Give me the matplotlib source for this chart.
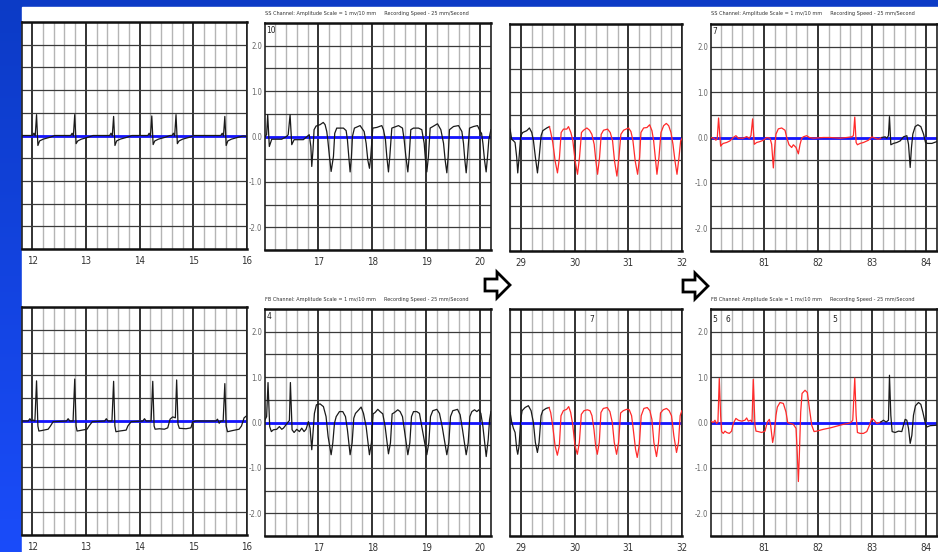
import numpy as np
import matplotlib.pyplot as plt
from matplotlib.ticker import MultipleLocator, FixedLocator
from matplotlib.patches import Polygon, Rectangle
from matplotlib.colors import LinearSegmentedColormap

W, H = 938, 552
NARROW = ['Liberation Sans Narrow', 'DejaVu Sans']

# ---- traces (time in s, amplitude in mV) ----
# top row: SS channel
ss_a_t = [11.81, 12.007, 12.032, 12.056, 12.081, 12.106, 12.137, 12.205, 12.328, 12.421,
          12.718, 12.743, 12.767, 12.792, 12.817, 12.848, 12.916, 13.039, 13.132,
          13.442, 13.467, 13.491, 13.516, 13.541, 13.572, 13.64, 13.763, 13.856,
          14.153, 14.178, 14.202, 14.227, 14.252, 14.283, 14.351, 14.474, 14.567,
          14.604, 14.629, 14.653, 14.678, 14.703, 14.734, 14.802, 14.925, 15.018,
          15.513, 15.538, 15.562, 15.587, 15.612, 15.643, 15.711, 15.834, 15.927, 16.0]
ss_a_v = [0.0, 0.0, 0.05, -0.01, 0.46, -0.22, -0.12, -0.08, -0.04, 0.0,
          0.0, 0.05, -0.01, 0.46, -0.18, -0.12, -0.08, -0.04, 0.0,
          0.0, 0.05, -0.01, 0.42, -0.22, -0.12, -0.08, -0.04, 0.0,
          0.0, 0.05, -0.01, 0.43, -0.20, -0.12, -0.08, -0.04, 0.0,
          0.0, 0.05, -0.01, 0.46, -0.18, -0.12, -0.08, -0.04, 0.0,
          0.0, 0.05, -0.01, 0.42, -0.22, -0.12, -0.08, -0.04, -0.01, -0.02]

ss_b_t = [16.011, 16.04, 16.06, 16.09, 16.135, 16.32, 16.41, 16.44, 16.475, 16.506, 16.55,
          16.72, 16.78, 16.83, 16.86, 16.877, 16.90, 16.92, 16.957, 17.03, 17.09, 17.124,
          17.155, 17.174, 17.205, 17.236, 17.279, 17.303, 17.34, 17.464, 17.514, 17.538,
          17.563, 17.588, 17.613, 17.631, 17.668, 17.773, 17.848, 17.885, 17.916, 17.947,
          17.971, 18.008, 18.083, 18.175, 18.206, 18.243, 18.268, 18.299, 18.324, 18.361,
          18.485, 18.559, 18.59, 18.621, 18.658, 18.683, 18.713, 18.763, 18.856, 18.917,
          18.961, 18.985, 19.01, 19.04, 19.072, 19.208, 19.27, 19.32, 19.35, 19.381,
          19.406, 19.43, 19.505, 19.598, 19.66, 19.69, 19.715, 19.74, 19.765, 19.802,
          19.876, 19.95, 20.0, 20.025, 20.05, 20.08, 20.11, 20.136, 20.16, 20.198]
ss_b_v = [0.0, 0.04, 0.48, -0.22, -0.06, -0.06, 0.0, 0.04, 0.48, -0.18, -0.07,
          -0.07, -0.01, 0.04, -0.22, -0.66, -0.29, 0.15, 0.23, 0.26, 0.31, 0.26,
          0.11, -0.07, -0.44, -0.77, -0.44, 0.07, 0.185, 0.185, 0.13, -0.07,
          -0.44, -0.78, -0.44, 0.0, 0.185, 0.24, 0.11, -0.15, -0.52, -0.70,
          -0.44, 0.185, 0.20, 0.24, 0.15, -0.07, -0.44, -0.78, -0.44, 0.185,
          0.24, 0.185, -0.07, -0.44, -0.78, -0.44, 0.15, 0.185, 0.185, 0.15,
          -0.15, -0.52, -0.78, -0.44, 0.185, 0.28, 0.15, -0.15, -0.52, -0.80,
          -0.44, 0.15, 0.22, 0.24, 0.11, -0.15, -0.52, -0.80, -0.44, 0.185,
          0.22, 0.24, 0.11, 0.07, -0.15, -0.52, -0.78, -0.44, -0.07, 0.15]

ss_c_black_t = [28.801, 28.832, 28.863, 28.894, 28.925, 28.944, 28.969, 29.0, 29.037, 29.112,
                29.161, 29.205, 29.236, 29.273, 29.311, 29.342, 29.379, 29.41, 29.484, 29.534]
ss_c_black_v = [0.185, -0.04, -0.07, -0.11, -0.44, -0.78, -0.44, 0.04, 0.11, 0.15,
                0.21, 0.11, -0.07, -0.44, -0.78, -0.44, 0.04, 0.15, 0.21, 0.24]
ss_c_red_t = [29.534, 29.559, 29.596, 29.64, 29.683, 29.72, 29.752, 29.795, 29.857, 29.888,
              29.932, 29.969, 30.012, 30.056, 30.093, 30.13, 30.168, 30.23, 30.28, 30.323,
              30.366, 30.398, 30.429, 30.466, 30.497, 30.54, 30.615, 30.665, 30.708, 30.745,
              30.789, 30.826, 30.863, 30.913, 31.006, 31.05, 31.087, 31.13, 31.174, 31.211,
              31.236, 31.286, 31.348, 31.398, 31.441, 31.472, 31.51, 31.534, 31.571, 31.609,
              31.658, 31.708, 31.752, 31.795, 31.832, 31.87, 31.907, 31.944, 31.975, 32.0]
ss_c_red_v = [0.24, 0.11, -0.11, -0.52, -0.78, -0.44, 0.11, 0.185, 0.185, 0.24,
              0.11, -0.07, -0.52, -0.81, -0.44, 0.11, 0.16, 0.21, 0.16, 0.07,
              -0.15, -0.52, -0.81, -0.44, 0.07, 0.16, 0.185, 0.11, -0.07, -0.52,
              -0.85, -0.44, 0.07, 0.16, 0.21, 0.13, -0.07, -0.52, -0.81, -0.44,
              0.11, 0.21, 0.22, 0.28, 0.15, -0.07, -0.52, -0.81, -0.44, 0.11,
              0.26, 0.31, 0.26, 0.11, -0.15, -0.52, -0.81, -0.44, -0.07, -0.02]

ss_d_red_t = [80.019, 80.074, 80.111, 80.136, 80.16, 80.198, 80.216, 80.247, 80.309, 80.37,
              80.432, 80.481, 80.525, 80.617, 80.679, 80.728, 80.759, 80.79, 80.821, 80.864,
              80.926, 80.988, 81.049, 81.111, 81.142, 81.173, 81.198, 81.222, 81.265, 81.327,
              81.389, 81.42, 81.463, 81.512, 81.543, 81.593, 81.636, 81.667, 81.698, 81.728,
              81.79, 81.84, 81.914, 82.099, 82.222, 82.407, 82.531, 82.623, 82.654, 82.679,
              82.704, 82.728, 82.778, 82.84, 82.932, 82.994, 83.056, 83.117, 83.179]
ss_d_red_v = [0.0, -0.015, -0.06, -0.015, 0.43, -0.19, -0.16, -0.13, -0.11, -0.075,
              0.0, 0.04, -0.015, -0.015, 0.02, -0.015, 0.04, 0.41, -0.15, -0.11,
              -0.09, -0.06, 0.0, -0.015, -0.15, -0.67, -0.22, 0.075, 0.19, 0.21,
              0.16, 0.0, -0.16, -0.22, -0.16, -0.22, -0.36, -0.15, -0.015, 0.015,
              0.04, 0.0, -0.015, 0.0, 0.0, -0.015, 0.0, 0.015, 0.04, 0.45,
              -0.11, -0.16, -0.13, -0.11, -0.06, 0.015, -0.015, -0.04, 0.0]
ss_d_black_t = [83.179, 83.241, 83.272, 83.302, 83.321, 83.346, 83.395, 83.457, 83.519, 83.58,
                83.642, 83.673, 83.704, 83.728, 83.753, 83.796, 83.846, 83.901, 83.951, 83.988,
                84.025, 84.105, 84.198]
ss_d_black_v = [0.0, 0.015, -0.015, 0.04, 0.46, -0.16, -0.13, -0.11, -0.075, 0.015,
                0.04, -0.15, -0.66, -0.22, 0.075, 0.24, 0.28, 0.24, 0.075, -0.11,
                -0.13, -0.13, -0.09]

# bottom row: FB channel
fb_e_t = [11.809, 11.926, 11.957, 11.988, 12.019, 12.05, 12.081, 12.106, 12.124, 12.174,
          12.297, 12.34, 12.39, 12.638, 12.669, 12.7, 12.761, 12.792, 12.817, 12.835,
          12.885, 13.021, 13.058, 13.12, 13.349, 13.38, 13.41, 13.485, 13.516, 13.54,
          13.559, 13.627, 13.75, 13.781, 13.843, 14.06, 14.091, 14.122, 14.214, 14.245,
          14.27, 14.289, 14.369, 14.462, 14.524, 14.567, 14.616, 14.666, 14.69, 14.715,
          14.74, 14.864, 14.956, 14.987, 15.049, 15.42, 15.451, 15.482, 15.513, 15.556,
          15.587, 15.612, 15.637, 15.73, 15.853, 15.897, 15.946, 15.989]
fb_e_v = [0.0, 0.0, 0.05, 0.0, 0.02, 0.0, 0.88, -0.11, -0.22, -0.21,
          -0.18, -0.11, -0.015, 0.0, 0.05, 0.0, 0.0, 0.92, -0.11, -0.22,
          -0.21, -0.18, -0.11, -0.015, 0.0, 0.05, 0.0, 0.0, 0.87, -0.11,
          -0.235, -0.22, -0.20, -0.11, -0.015, 0.0, 0.05, 0.0, 0.0, 0.87,
          -0.11, -0.18, -0.17, -0.18, -0.15, 0.04, 0.09, 0.07, 0.90, -0.07,
          -0.16, -0.17, -0.15, -0.02, 0.0, 0.0, 0.04, -0.05, 0.0, 0.0,
          0.82, -0.11, -0.235, -0.21, -0.18, -0.11, 0.07, 0.11]

fb_f_t = [16.011, 16.04, 16.066, 16.097, 16.128, 16.166, 16.227, 16.277, 16.32, 16.351,
          16.4, 16.444, 16.462, 16.481, 16.512, 16.549, 16.599, 16.648, 16.691, 16.734,
          16.771, 16.815, 16.846, 16.877, 16.90, 16.926, 16.963, 17.031, 17.093, 17.142,
          17.18, 17.236, 17.267, 17.298, 17.33, 17.39, 17.452, 17.502, 17.538, 17.588,
          17.625, 17.656, 17.687, 17.749, 17.792, 17.836, 17.885, 17.946, 17.983, 18.014,
          18.051, 18.101, 18.144, 18.194, 18.237, 18.299, 18.336, 18.367, 18.41, 18.472,
          18.515, 18.559, 18.602, 18.658, 18.695, 18.726, 18.763, 18.825, 18.874, 18.917,
          19.01, 19.047, 19.078, 19.121, 19.196, 19.245, 19.295, 19.381, 19.418, 19.449,
          19.492, 19.579, 19.628, 19.672, 19.74, 19.777, 19.808, 19.845, 19.895, 19.938,
          19.975, 20.012, 20.05, 20.111, 20.148, 20.173, 20.198]
fb_f_v = [0.06, 0.13, 0.88, -0.09, -0.20, -0.16, -0.15, -0.09, -0.15, -0.125,
          -0.05, 0.02, 0.04, 0.88, -0.16, -0.22, -0.15, -0.20, -0.125, -0.20,
          -0.15, 0.02, -0.125, -0.60, -0.23, 0.20, 0.39, 0.41, 0.35, 0.13,
          -0.31, -0.71, -0.45, -0.015, 0.13, 0.24, 0.24, 0.13, -0.16, -0.71,
          -0.45, 0.095, 0.20, 0.28, 0.34, 0.20, -0.09, -0.71, -0.45, 0.19,
          0.22, 0.29, 0.24, 0.19, -0.09, -0.69, -0.45, 0.19, 0.22, 0.28,
          0.24, 0.13, -0.23, -0.71, -0.45, 0.13, 0.24, 0.24, 0.20, -0.09,
          -0.71, -0.45, 0.13, 0.26, 0.29, 0.20, -0.09, -0.71, -0.45, 0.13,
          0.26, 0.29, 0.17, -0.16, -0.71, -0.45, 0.13, 0.24, 0.28, 0.24,
          0.28, 0.20, -0.09, -0.75, -0.38, 0.06, 0.24]

fb_g_black_t = [28.802, 28.833, 28.864, 28.895, 28.926, 28.944, 28.969, 29.0, 29.025, 29.08,
                29.142, 29.192, 29.235, 29.272, 29.31, 29.341, 29.378, 29.409, 29.471, 29.526]
fb_g_black_v = [0.22, 0.0, -0.13, -0.22, -0.59, -0.70, -0.51, 0.07, 0.26, 0.33,
                0.37, 0.26, 0.0, -0.44, -0.66, -0.44, 0.15, 0.26, 0.31, 0.33]
fb_g_red_t = [29.526, 29.557, 29.594, 29.638, 29.681, 29.718, 29.749, 29.793, 29.854, 29.892,
              29.929, 29.966, 30.009, 30.053, 30.09, 30.127, 30.176, 30.238, 30.288, 30.325,
              30.362, 30.393, 30.424, 30.461, 30.492, 30.536, 30.61, 30.659, 30.703, 30.74,
              30.783, 30.82, 30.858, 30.907, 30.969, 31.019, 31.062, 31.093, 31.136, 31.167,
              31.204, 31.241, 31.291, 31.353, 31.402, 31.44, 31.477, 31.526, 31.563, 31.6,
              31.65, 31.712, 31.761, 31.805, 31.848, 31.898, 31.935, 31.966, 31.997]
fb_g_red_v = [0.33, 0.22, -0.07, -0.51, -0.72, -0.51, 0.15, 0.26, 0.29, 0.35,
              0.22, -0.04, -0.51, -0.70, -0.44, 0.18, 0.26, 0.28, 0.26, 0.15,
              -0.15, -0.51, -0.70, -0.44, 0.22, 0.31, 0.33, 0.24, 0.0, -0.44,
              -0.70, -0.44, 0.21, 0.26, 0.29, 0.28, 0.15, -0.15, -0.59, -0.77,
              -0.51, 0.15, 0.31, 0.33, 0.26, 0.07, -0.44, -0.75, -0.44, 0.21,
              0.28, 0.31, 0.26, 0.15, -0.29, -0.66, -0.44, 0.15, 0.26]

fb_h_red_t = [80.019, 80.062, 80.093, 80.123, 80.148, 80.173, 80.198, 80.216, 80.247, 80.278,
              80.309, 80.358, 80.401, 80.432, 80.481, 80.525, 80.586, 80.648, 80.679, 80.71,
              80.753, 80.778, 80.802, 80.833, 80.852, 80.895, 80.957, 81.019, 81.062, 81.099,
              81.123, 81.16, 81.185, 81.222, 81.247, 81.296, 81.358, 81.407, 81.438, 81.481,
              81.543, 81.593, 81.617, 81.636, 81.654, 81.679, 81.704, 81.759, 81.802, 81.84,
              81.883, 81.926, 81.975, 82.099, 82.222, 82.346, 82.469, 82.562, 82.605, 82.642,
              82.679, 82.704, 82.728, 82.778, 82.84, 82.901, 82.951, 82.994, 83.037, 83.086,
              83.16]
fb_h_red_v = [0.03, 0.0, 0.05, -0.02, 0.01, 0.97, 0.16, -0.20, -0.24, -0.19,
              -0.22, -0.24, -0.19, -0.02, 0.09, 0.05, 0.03, 0.05, 0.10, 0.03,
              0.05, 0.01, 0.95, -0.06, -0.19, -0.20, -0.22, -0.19, 0.01, 0.07,
              -0.06, -0.44, -0.28, 0.16, 0.34, 0.44, 0.42, 0.23, 0.0, -0.02,
              -0.04, -0.13, -0.72, -1.30, -0.72, 0.23, 0.64, 0.71, 0.66, 0.31,
              -0.06, -0.20, -0.19, -0.15, -0.12, -0.08, -0.04, -0.02, 0.0, 0.05,
              0.98, 0.16, -0.22, -0.24, -0.24, -0.20, -0.06, 0.09, 0.05, -0.02,
              0.01]
fb_h_black_t = [83.16, 83.21, 83.259, 83.302, 83.321, 83.346, 83.37, 83.426, 83.488, 83.549,
                83.58, 83.611, 83.642, 83.673, 83.704, 83.735, 83.765, 83.802, 83.858, 83.901,
                83.938, 83.981, 84.012, 84.074, 84.198]
fb_h_black_v = [0.01, 0.05, 0.01, 0.05, 1.04, 0.16, -0.20, -0.22, -0.19, -0.20,
                -0.06, 0.07, 0.05, -0.13, -0.46, -0.28, 0.16, 0.37, 0.44, 0.40,
                0.23, 0.0, -0.10, -0.07, -0.06]

y_ticks = [-2, -1, 0, 1, 2]
y_tick_labels = ['-2.0', '-1.0', '0.0', '1.0', '2.0']
ss_title = 'SS Channel: Amplitude Scale = 1 mv/10 mm     Recording Speed - 25 mm/Second'
fb_title = 'FB Channel: Amplitude Scale = 1 mv/10 mm     Recording Speed - 25 mm/Second'

BLACK = '#1a1a1a'
RED = '#ff2a2a'


def box(l, t, r, b):
    return [l / W, 1 - b / H, (r - l) / W, (b - t) / H]


fig = plt.figure(figsize=(W / 100, H / 100), dpi=100)

# blue slide background with white page
bg = fig.add_axes([0, 0, 1, 1], zorder=-5)
grad = np.linspace(0, 1, 256).reshape(-1, 1)
cm = LinearSegmentedColormap.from_list('bl', ['#0c3bc6', '#1a4cfa'])
bg.imshow(grad, aspect='auto', cmap=cm, extent=[0, 1, 0, 1])
bg.add_patch(Rectangle((22 / W, 0), 1 - 22 / W, 1 - 7 / H, color='white'))
bg.set_xlim(0, 1)
bg.set_ylim(0, 1)
bg.axis('off')


def panel(rect, xlim, segments, ylab):
    ax = fig.add_axes(rect)
    ax.set_xlim(*xlim)
    ax.set_ylim(-2.5, 2.5)
    ax.xaxis.set_major_locator(MultipleLocator(1))
    ax.xaxis.set_minor_locator(MultipleLocator(0.2))
    ax.yaxis.set_major_locator(FixedLocator(y_ticks))
    ax.yaxis.set_minor_locator(MultipleLocator(0.5))
    ax.grid(which='major', axis='x', color='#222222', lw=1.3)
    ax.grid(which='minor', axis='x', color='#b5b5b5', lw=1.0)
    ax.grid(which='both', axis='y', color='#3a3a3a', lw=0.9)
    ax.set_axisbelow(True)
    ax.tick_params(which='both', length=0)
    ax.tick_params(axis='x', pad=5, labelsize=7, labelcolor='#333333')
    if ylab:
        ax.set_yticklabels(y_tick_labels)
        ax.tick_params(axis='y', pad=2, labelsize=5.5, labelcolor='#666666')
    else:
        ax.tick_params(axis='y', labelleft=False)
    for lab in ax.get_xticklabels() + ax.get_yticklabels():
        lab.set_family(NARROW)
        lab.set_fontstretch('condensed')
    for s in ['top', 'bottom']:
        ax.spines[s].set_linewidth(1.8)
        ax.spines[s].set_color('#111111')
    for s in ['left', 'right']:
        ax.spines[s].set_linewidth(1.2)
        ax.spines[s].set_color('#222222')
    ax.axhline(0, color='#1414ff', lw=2.0, zorder=2)
    for t, v, c in segments:
        ax.plot(t, v, color=c, lw=0.9, zorder=3)
    return ax


ax_a = panel(box(22, 22, 247, 249), (11.81, 16.0), [(ss_a_t, ss_a_v, BLACK)], False)
ax_b = panel(box(265, 23, 491, 250), (16.01, 20.2), [(ss_b_t, ss_b_v, BLACK)], True)
ax_c = panel(box(510, 24, 682, 251), (28.8, 32.0),
             [(ss_c_black_t, ss_c_black_v, BLACK), (ss_c_red_t, ss_c_red_v, RED)], False)
ax_d = panel(box(711, 24, 937, 251), (80.02, 84.2),
             [(ss_d_red_t, ss_d_red_v, RED), (ss_d_black_t, ss_d_black_v, BLACK)], True)

ax_e = panel(box(22, 307, 247, 535), (11.81, 16.0), [(fb_e_t, fb_e_v, BLACK)], False)
ax_f = panel(box(265, 309, 491, 536), (16.01, 20.2), [(fb_f_t, fb_f_v, BLACK)], True)
ax_g = panel(box(510, 309, 682, 536), (28.8, 32.0),
             [(fb_g_black_t, fb_g_black_v, BLACK), (fb_g_red_t, fb_g_red_v, RED)], False)
ax_h = panel(box(711, 309, 937, 536), (80.02, 84.2),
             [(fb_h_red_t, fb_h_red_v, RED), (fb_h_black_t, fb_h_black_v, BLACK)], True)

# channel captions
cap = dict(family=NARROW, fontstretch='condensed', fontsize=4.0, color='#333333',
           va='center', ha='left')
fig.text(265 / W, 1 - 14 / H, ss_title, **cap)
fig.text(711 / W, 1 - 14 / H, ss_title, **cap)
fig.text(265 / W, 1 - 299 / H, fb_title, **cap)
fig.text(711 / W, 1 - 299 / H, fb_title, **cap)

# small event numbers inside the strips
num = dict(family=NARROW, fontstretch='condensed', fontsize=6, color='#222222',
           va='top', ha='left')
ax_b.text(0.005, 0.985, '10', transform=ax_b.transAxes, **num)
ax_d.text(0.005, 0.985, '7', transform=ax_d.transAxes, **num)
ax_f.text(0.005, 0.985, '4', transform=ax_f.transAxes, **num)
ax_g.text(0.46, 0.975, '7', transform=ax_g.transAxes, **num)
ax_h.text(0.005, 0.975, '5', transform=ax_h.transAxes, **num)
ax_h.text(0.065, 0.975, '6', transform=ax_h.transAxes, **num)
ax_h.text(0.535, 0.975, '5', transform=ax_h.transAxes, **num)


# outline arrows between the rows
def arrow(x0, y0):
    pts = [(x0, y0 - 6), (x0 + 12, y0 - 6), (x0 + 12, y0 - 13), (x0 + 25, y0),
           (x0 + 12, y0 + 13), (x0 + 12, y0 + 6), (x0, y0 + 6)]
    pts = [(x / W, 1 - y / H) for x, y in pts]
    fig.patches.append(Polygon(pts, closed=True, facecolor='white', edgecolor='black',
                               lw=2.0, transform=fig.transFigure, figure=fig, zorder=10))


arrow(485, 285)
arrow(683, 286)

fig.savefig('out.png', dpi=100)
